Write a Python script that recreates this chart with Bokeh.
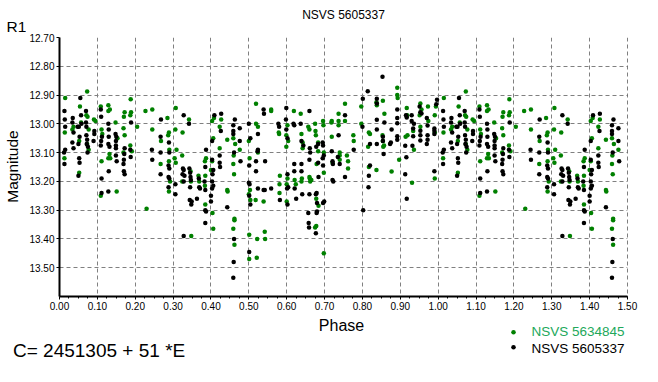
import math
from bokeh.plotting import figure
from bokeh.layouts import column, row
from bokeh.models import Range1d, FixedTicker, Span, NumeralTickFormatter
from bokeh.core.properties import value
from bokeh.embed import file_html
from bokeh.resources import INLINE

# ---- data (phase 0..1; the chart repeats phase 0..0.5 at 1..1.5) ----
green_phase = [
    0.073, 0.015, 0.054, 0.014, 0.013, 0.052, 0.037, 0.034, 0.071, 0.074, 0.077, 0.057, 0.052, 0.091, 0.095,
    0.073, 0.077, 0.109, 0.129, 0.133, 0.129, 0.111, 0.113, 0.111, 0.109, 0.132, 0.129, 0.134, 0.148, 0.153,
    0.151, 0.172, 0.170, 0.169, 0.172, 0.188, 0.189, 0.187, 0.187, 0.191, 0.169, 0.205, 0.227, 0.245, 0.245,
    0.230,
    0.307, 0.285, 0.306, 0.325, 0.289, 0.287, 0.268, 0.267, 0.290, 0.289, 0.309, 0.304, 0.307, 0.324, 0.292,
    0.289, 0.324, 0.342, 0.346, 0.347, 0.367, 0.369, 0.385, 0.384, 0.385, 0.403, 0.408, 0.423, 0.427, 0.406,
    0.423, 0.387, 0.384, 0.403, 0.400, 0.404, 0.406, 0.348, 0.443, 0.459, 0.460, 0.459, 0.461, 0.464, 0.476,
    0.443, 0.444, 0.462, 0.462, 0.459, 0.462,
    0.519, 0.559, 0.559, 0.519, 0.524, 0.500, 0.502, 0.524, 0.503, 0.500, 0.504, 0.518, 0.539, 0.501, 0.522,
    0.542, 0.543, 0.501, 0.521, 0.579, 0.580, 0.602, 0.599, 0.604, 0.599, 0.619, 0.637, 0.639, 0.642, 0.642,
    0.657, 0.660, 0.675, 0.676, 0.677, 0.683, 0.683, 0.696, 0.697, 0.582, 0.581, 0.581, 0.602, 0.600, 0.600,
    0.621, 0.624, 0.640, 0.639, 0.660, 0.661, 0.662, 0.665, 0.679, 0.678, 0.684, 0.678, 0.675, 0.698, 0.698,
    0.698, 0.719, 0.718, 0.719, 0.737, 0.737, 0.737, 0.740, 0.740, 0.740, 0.754, 0.754, 0.721,
    0.759, 0.762, 0.762, 0.797, 0.776, 0.777, 0.797, 0.817, 0.820, 0.815, 0.817, 0.837, 0.838, 0.854, 0.858,
    0.853, 0.854, 0.857, 0.855, 0.837, 0.877, 0.892, 0.892, 0.893, 0.917, 0.897, 0.914, 0.931, 0.918, 0.936,
    0.934, 0.953, 0.956, 0.953, 0.951, 0.973, 0.974, 0.994, 0.991, 0.991, 0.991, 0.919,
]
green_mag = [
    12.888, 12.910, 12.940, 13.030, 13.120, 13.170, 13.010, 13.020, 12.970, 12.975, 13.020, 12.995, 13.060, 12.985, 12.990,
    13.070, 13.090, 12.940, 12.935, 12.950, 12.955, 13.020, 13.035, 13.130, 13.250, 13.105, 13.120, 13.120, 12.995, 13.050,
    13.235, 12.960, 12.975, 13.015, 13.040, 12.915, 12.960, 12.970, 13.075, 13.095, 13.100, 13.010, 12.955, 12.950, 13.020,
    13.295,
    12.945, 12.980, 13.020, 13.030, 13.030, 13.040, 13.060, 13.140, 13.090, 13.130, 13.090, 13.120, 13.135, 13.110, 13.200,
    13.235, 13.200, 12.985, 13.165, 13.200, 13.180, 13.200, 13.180, 13.215, 13.280, 12.990, 12.980, 13.010, 12.985, 13.050,
    13.085, 13.120, 13.130, 13.130, 13.160, 13.310, 13.365, 13.390, 13.055, 13.050, 13.110, 13.140, 13.175, 13.070, 13.090,
    13.230, 13.235, 13.330, 13.335, 13.365, 13.420,
    12.930, 12.950, 12.955, 13.000, 13.010, 13.060, 13.120, 13.100, 13.230, 13.245, 13.265, 13.265, 13.270, 13.385, 13.400,
    13.375, 13.400, 13.470, 13.465, 13.030, 13.035, 13.005, 13.040, 13.060, 13.080, 12.955, 12.965, 13.035, 13.065, 13.085,
    13.010, 13.020, 13.000, 13.025, 13.040, 13.065, 13.095, 12.990, 13.005, 13.180, 13.210, 13.240, 13.190, 13.210, 13.270,
    13.195, 13.210, 13.190, 13.200, 13.185, 13.190, 13.200, 13.195, 13.140, 13.260, 13.285, 13.355, 13.360, 13.450, 13.170,
    13.100, 13.045, 12.995, 12.990, 12.965, 12.990, 13.005, 13.110, 13.125, 13.100, 12.930, 12.990, 13.135,
    13.110, 13.130, 13.155, 12.940, 13.040, 13.060, 13.000, 13.030, 13.035, 13.080, 13.150, 12.925, 12.935, 12.920, 12.965,
    13.040, 13.060, 13.075, 13.080, 13.160, 13.166, 12.875, 12.900, 12.910, 12.945, 13.125, 13.045, 13.205, 12.970, 13.090,
    13.025, 12.929, 12.950, 13.010, 12.970, 12.940, 12.990, 12.940, 12.970, 13.030, 13.190, 13.040,
]

black_phase = [
    0.055, 0.013, 0.014, 0.015, 0.035, 0.034, 0.037, 0.034, 0.037, 0.015, 0.012, 0.013, 0.057, 0.051, 0.048,
    0.058, 0.053, 0.050, 0.052, 0.053, 0.050, 0.070, 0.070, 0.071, 0.071, 0.073, 0.072, 0.075, 0.074, 0.092,
    0.092, 0.090, 0.109, 0.110, 0.112, 0.110, 0.109, 0.111, 0.111, 0.129, 0.130, 0.130, 0.129, 0.132, 0.130,
    0.129, 0.148, 0.150, 0.149, 0.149, 0.149, 0.149, 0.151, 0.172, 0.171, 0.170, 0.169, 0.170, 0.172, 0.189,
    0.188, 0.187, 0.244, 0.245,
    0.268, 0.267, 0.267, 0.267, 0.289, 0.290, 0.288, 0.290, 0.288, 0.290, 0.288, 0.306, 0.306, 0.328, 0.342,
    0.326, 0.328, 0.325, 0.330, 0.328, 0.343, 0.345, 0.346, 0.347, 0.345, 0.344, 0.349, 0.348, 0.363, 0.328,
    0.368, 0.369, 0.371, 0.383, 0.385, 0.385, 0.387, 0.385, 0.387, 0.385, 0.400, 0.400, 0.403, 0.406, 0.403,
    0.404, 0.406, 0.403, 0.403, 0.409, 0.427, 0.426, 0.423, 0.423, 0.424, 0.443, 0.459, 0.463, 0.459, 0.459,
    0.461, 0.476, 0.476, 0.478, 0.461, 0.460, 0.459,
    0.539, 0.540, 0.500, 0.504, 0.524, 0.524, 0.523, 0.501, 0.519, 0.543, 0.519, 0.500, 0.502, 0.501, 0.504,
    0.524, 0.539, 0.542, 0.559, 0.582, 0.501, 0.578, 0.580, 0.599, 0.598, 0.599, 0.602, 0.618, 0.620, 0.637,
    0.639, 0.644, 0.660, 0.661, 0.662, 0.678, 0.683, 0.695, 0.696, 0.698, 0.696, 0.695, 0.683, 0.660, 0.620,
    0.639, 0.639, 0.620, 0.602, 0.604, 0.601, 0.602, 0.621, 0.625, 0.641, 0.660, 0.677, 0.679, 0.684, 0.680,
    0.696, 0.699, 0.657, 0.680, 0.679, 0.658, 0.659, 0.677, 0.719, 0.721, 0.722, 0.723, 0.721, 0.735, 0.737,
    0.740, 0.754, 0.754,
    0.853, 0.814, 0.801, 0.838, 0.838, 0.800, 0.777, 0.838, 0.838, 0.858, 0.877, 0.892, 0.892, 0.892, 0.892,
    0.892, 0.854, 0.854, 0.875, 0.873, 0.838, 0.820, 0.820, 0.817, 0.816, 0.856, 0.802, 0.915, 0.917, 0.930,
    0.930, 0.934, 0.936, 0.934, 0.932, 0.913, 0.916, 0.913, 0.917, 0.951, 0.953, 0.956, 0.953, 0.953, 0.953,
    0.970, 0.972, 0.972, 0.972, 0.970, 0.990, 0.990, 0.990, 0.997, 0.995, 0.990,
]
black_mag = [
    12.910, 12.955, 12.985, 13.010, 12.980, 12.995, 13.030, 13.065, 13.085, 13.090, 13.100, 13.140, 12.970, 13.010, 13.010,
    13.000, 13.045, 13.070, 13.120, 13.135, 13.180, 12.955, 12.995, 13.010, 13.040, 13.055, 13.070, 13.080, 13.100, 13.025,
    13.035, 13.060, 12.950, 12.975, 13.045, 13.060, 13.075, 13.190, 13.240, 13.000, 13.020, 13.045, 13.070, 13.080, 13.165,
    13.235, 13.035, 13.045, 13.060, 13.075, 13.085, 13.110, 13.130, 13.085, 13.105, 13.125, 13.140, 13.165, 13.175, 12.995,
    13.115, 13.090, 13.090, 13.125,
    12.985, 13.045, 13.100, 13.175, 13.065, 13.100, 13.145, 13.155, 13.185, 13.190, 13.220, 13.210, 13.245, 12.970, 13.000,
    13.155, 13.160, 13.175, 13.180, 13.200, 13.155, 13.170, 13.185, 13.195, 13.220, 13.265, 13.270, 13.280, 13.260, 13.390,
    13.190, 13.220, 13.225, 13.200, 13.230, 13.150, 13.090, 13.300, 13.305, 13.345, 13.270, 13.250, 13.200, 13.215, 13.225,
    13.175, 13.160, 13.125, 13.060, 12.970, 12.965, 13.025, 13.110, 13.135, 13.150, 13.290, 13.005, 12.985, 13.025, 13.035,
    13.100, 13.015, 13.060, 13.130, 13.400, 13.480, 13.535,
    12.950, 12.965, 13.000, 13.050, 13.035, 13.090, 13.095, 13.145, 13.130, 13.130, 13.165, 13.205, 13.210, 13.250, 13.280,
    13.225, 13.230, 13.230, 13.225, 13.265, 13.445, 13.000, 13.010, 12.945, 12.985, 13.020, 13.050, 13.000, 13.005, 13.000,
    13.060, 13.075, 12.955, 13.085, 13.100, 13.080, 13.070, 13.065, 13.075, 13.110, 13.145, 13.120, 13.135, 13.125, 13.140,
    13.140, 13.165, 13.165, 13.175, 13.220, 13.225, 13.280, 13.225, 13.260, 13.245, 13.245, 13.245, 13.240, 13.185, 13.275,
    13.275, 13.270, 13.310, 13.305, 13.310, 13.345, 13.360, 13.380, 13.095, 13.130, 13.140, 13.200, 13.195, 13.115, 13.040,
    13.140, 12.970, 13.185,
    12.836, 12.887, 12.913, 12.913, 12.929, 13.010, 13.090, 12.986, 13.020, 12.995, 13.020, 12.950, 12.980, 12.998, 13.043,
    13.055, 13.045, 13.060, 13.065, 13.070, 13.070, 13.070, 13.145, 13.180, 13.220, 13.105, 13.300, 12.970, 12.978, 12.970,
    12.990, 13.016, 13.000, 13.043, 13.076, 13.076, 13.116, 13.175, 13.260, 12.940, 12.960, 12.964, 13.024, 13.040, 13.058,
    12.980, 13.006, 13.040, 13.055, 13.070, 13.016, 13.024, 13.035, 12.916, 12.932, 13.165,
]

x_ticks = [0.0, 0.1, 0.2, 0.3, 0.4, 0.5, 0.6, 0.7, 0.8, 0.9, 1.0, 1.1, 1.2, 1.3, 1.4, 1.5]
y_ticks = [12.7, 12.8, 12.9, 13.0, 13.1, 13.2, 13.3, 13.4, 13.5]

title_text = "NSVS 5605337"
y_unit_text = "R1"
x_label = "Phase"
y_label = "Magnitude"
green_name = "NSVS 5634845"
black_name = "NSVS 5605337"
ephemeris = "C= 2451305 + 51 *E"


def repeat_half(ph, mg):
    xs = list(ph) + [v + 1.0 for v in ph if v < 0.5]
    ys = list(mg) + [m for v, m in zip(ph, mg) if v < 0.5]
    return xs, ys


gx, gy = repeat_half(green_phase, green_mag)
bx, by = repeat_half(black_phase, black_mag)

FONT = "Liberation Sans"
GREEN = "#008000"
W = 658
LEFT_W = 26          # strip left of the plot (unit + vertical axis title)
TOP_H = 31
MAIN_H = 287
BOT_H = 64


def strip(width, height, x0, y0):
    # a text strip whose data coordinates equal page pixels
    f = figure(width=width, height=height, output_backend="svg", toolbar_location=None,
               x_range=Range1d(x0, x0 + width), y_range=Range1d(y0 + height, y0),
               x_axis_type=None, y_axis_type=None, min_border=0,
               background_fill_color="white", border_fill_color="white")
    f.outline_line_color = None
    f.grid.visible = False
    return f


def put_text(fig, x, y, txt, size, color="black", align="left", angle=0.0):
    fig.text(x=[x], y=[y], text=[txt], text_align=align, text_baseline="middle", angle=angle,
             text_font=value(FONT), text_font_size=size, text_color=color)


# ---- left strip: unit and vertical axis title ----
lft = strip(LEFT_W, TOP_H + MAIN_H, 0, 0)
put_text(lft, 6, 25.8, y_unit_text, "15.5px")
put_text(lft, 12, 166, y_label, "15.5px", align="center", angle=math.pi / 2)

# ---- top strip: title ----
t = strip(W - LEFT_W, TOP_H, LEFT_W, 0)
put_text(t, 343, 14, title_text, "12px", align="center")

# ---- main plot ----
p = figure(width=W - LEFT_W, height=MAIN_H, output_backend="svg", toolbar_location=None,
           x_range=Range1d(0.0, 1.5), y_range=Range1d(13.6, 12.7),
           min_border_left=57 - LEFT_W, min_border_right=31, min_border_top=6, min_border_bottom=22,
           background_fill_color="white", border_fill_color="white")
p.outline_line_color = None
p.title.text = ""

p.scatter(gx, gy, size=4.5, fill_color=GREEN, line_color=None)
p.scatter(bx, by, size=4.5, fill_color="black", line_color=None)

p.xaxis.ticker = FixedTicker(ticks=x_ticks, minor_ticks=[i * 0.025 for i in range(61)])
p.yaxis.ticker = FixedTicker(ticks=y_ticks, minor_ticks=[])
p.xaxis.formatter = NumeralTickFormatter(format="0.00")
p.yaxis.formatter = NumeralTickFormatter(format="0.00")
for ax in (p.xaxis[0], p.yaxis[0]):
    ax.axis_line_width = 2
    ax.axis_line_color = "black"
    ax.major_tick_line_color = "black"
    ax.minor_tick_line_color = "black"
    ax.major_tick_in = 0
    ax.minor_tick_in = 0
    ax.major_label_text_font = FONT
    ax.major_label_text_font_size = "10px"
    ax.major_label_text_color = "black"
p.xaxis.major_tick_out = 3
p.xaxis.minor_tick_out = 2
p.xaxis.major_label_standoff = 2
p.yaxis.major_tick_out = 3
p.yaxis.minor_tick_out = 0
p.yaxis.major_label_standoff = 2

for g in (p.xgrid[0], p.ygrid[0]):
    g.grid_line_color = "#808080"
    g.grid_line_dash = "4 3"
    g.grid_line_width = 1
p.add_layout(Span(location=1.5, dimension="height", line_color="black",
                  line_dash="4 3", line_width=1))

# ---- bottom strip: axis title, legend, ephemeris ----
q = strip(W, BOT_H, 0, TOP_H + MAIN_H)
put_text(q, 341, 325, x_label, "16px", align="center")
q.scatter(x=[513], y=[331.7], size=4.5, fill_color=GREEN, line_color=None)
q.scatter(x=[513], y=[346.7], size=4.5, fill_color="black", line_color=None)
put_text(q, 531, 331, green_name, "13.5px", color="#22a85a")
put_text(q, 531, 347.5, black_name, "13.5px")
put_text(q, 12.5, 350.3, ephemeris, "19px")

layout = column(row(column(lft), column(row(t), p)), row(q), spacing=0)
open("out.html", "w").write(file_html(layout, INLINE))
